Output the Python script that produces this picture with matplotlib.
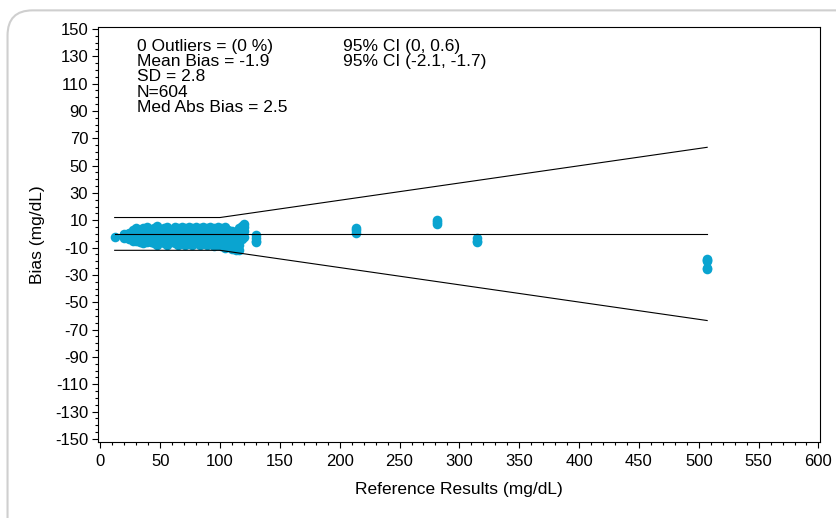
import numpy as np
import matplotlib
matplotlib.use("Agg")
import matplotlib.pyplot as plt
from matplotlib.patches import FancyBboxPatch

plt.rcParams['font.family'] = ['Liberation Sans', 'DejaVu Sans']
plt.rcParams['axes.unicode_minus'] = False

# Reference values and bias (mg/dL)
dense = [
    (12, [-2]),
    (20, [-1, -3, 0]),
    (24, [1, -2, -4, 0]),
    (27, [3, -1, -4, 1, -5]),
    (30, [2, -2, -5, 4, 0]),
    (33, [3, -3, -6, 1, -1]),
    (36, [4, -4, -7, 0, 2]),
    (39, [2, -2, -5, 5, -6]),
    (42, [3, -1, -6, 1, -3]),
    (45, [4, -4, -7, 0, 2]),
    (47, [6, -2, -5, 3, -8]),
    (50, [3, -3, -6, 1, -1]),
    (53, [4, -4, -7, 0, 2]),
    (56, [5, -2, -8, 3, -5]),
    (59, [3, -3, -6, 1, -1]),
    (62, [5, -4, -7, 0, 2]),
    (65, [4, -2, -8, 3, -5]),
    (68, [5, -3, -6, 1, -1]),
    (71, [4, -4, -8, 0, 2]),
    (74, [5, -2, -7, 3, -5]),
    (77, [4, -3, -8, 1, -1]),
    (80, [5, -4, -7, 0, 2]),
    (83, [4, -2, -8, 3, -5]),
    (86, [5, -3, -6, 1, -1]),
    (89, [4, -4, -8, 0, 2]),
    (92, [5, -2, -7, 3, -5]),
    (95, [4, -3, -9, 1, -1]),
    (98, [5, -4, -8, 0, 2]),
    (101, [4, -2, -9, 3, -6]),
    (104, [5, -3, -10, 1, -1]),
    (107, [3, -5, -8, 0, 2]),
    (110, [2, -4, -11, -7, 0]),
    (113, [1, -6, -12, -9, -2]),
    (116, [4, -3, -12, -8, 0]),
    (118, [6, 2, -4, -1]),
    (120, [7, 5, 2, -2]),
    (130, [-1, -3, -5, -6]),
    (214, [1, 3, 4]),
    (281, [7, 9, 10]),
    (315, [-3, -5, -6]),
    (507, [-18, -19, -20, -25, -26]),
]
ref = [x for x, ys in dense for _ in ys]
bias = [y for _, ys in dense for y in ys]

# acceptance limits: +/-12 mg/dL below 100, +/-12.5 % above
limit_x = [12, 100, 507]
limit_up = [12, 12, 63.4]
limit_lo = [-12, -12, -63.4]
mean_x = [12, 507]
mean_y = [0, 0]

fig = plt.figure(figsize=(8.37, 5.18), dpi=100)
frame = FancyBboxPatch((0.009, -0.1), 1.1, 1.08, boxstyle="round,pad=0,rounding_size=0.03",
                       transform=fig.transFigure, facecolor='none', edgecolor='#cfcfcf',
                       linewidth=1.5, mutation_aspect=837/518)
fig.patches.append(frame)

ax = fig.add_axes([0.117, 0.147, 0.863, 0.801])
ax.scatter(ref, bias, s=48, color='#0aa4d0', zorder=2, linewidths=0)
ax.plot(limit_x, limit_up, color='black', lw=0.8, zorder=3)
ax.plot(limit_x, limit_lo, color='black', lw=0.8, zorder=3)
ax.plot(mean_x, mean_y, color='black', lw=0.8, zorder=3)

ax.set_xlim(-2, 601.5)
ax.set_ylim(-152.2, 151.5)
ax.set_xticks(np.arange(0, 601, 50))
ax.set_xticks(np.arange(0, 601, 10), minor=True)
ax.set_yticks(np.arange(-150, 151, 20))
ax.set_yticks(np.arange(-150, 151, 5), minor=True)
ax.tick_params(labelsize=12, length=4, width=0.8)
ax.tick_params(axis='x', pad=5)
ax.tick_params(axis='y', pad=3)
ax.tick_params(which='minor', length=2.5, width=0.8)
for sp in ax.spines.values():
    sp.set_linewidth(0.8)
ax.set_xlabel("Reference Results (mg/dL)", fontsize=12.5, labelpad=9)
ax.set_ylabel("Bias (mg/dL)", fontsize=12.5, labelpad=7)

stats = "0 Outliers = (0 %)\nMean Bias = -1.9\nSD = 2.8\nN=604\nMed Abs Bias = 2.5"
ci = "95% CI (0, 0.6)\n95% CI (-2.1, -1.7)"
ax.text(0.054, 0.972, stats, transform=ax.transAxes, fontsize=12.5, va='top', linespacing=1.03)
ax.text(0.339, 0.972, ci, transform=ax.transAxes, fontsize=12.5, va='top', linespacing=1.03)

fig.savefig("out.png", dpi=100)
